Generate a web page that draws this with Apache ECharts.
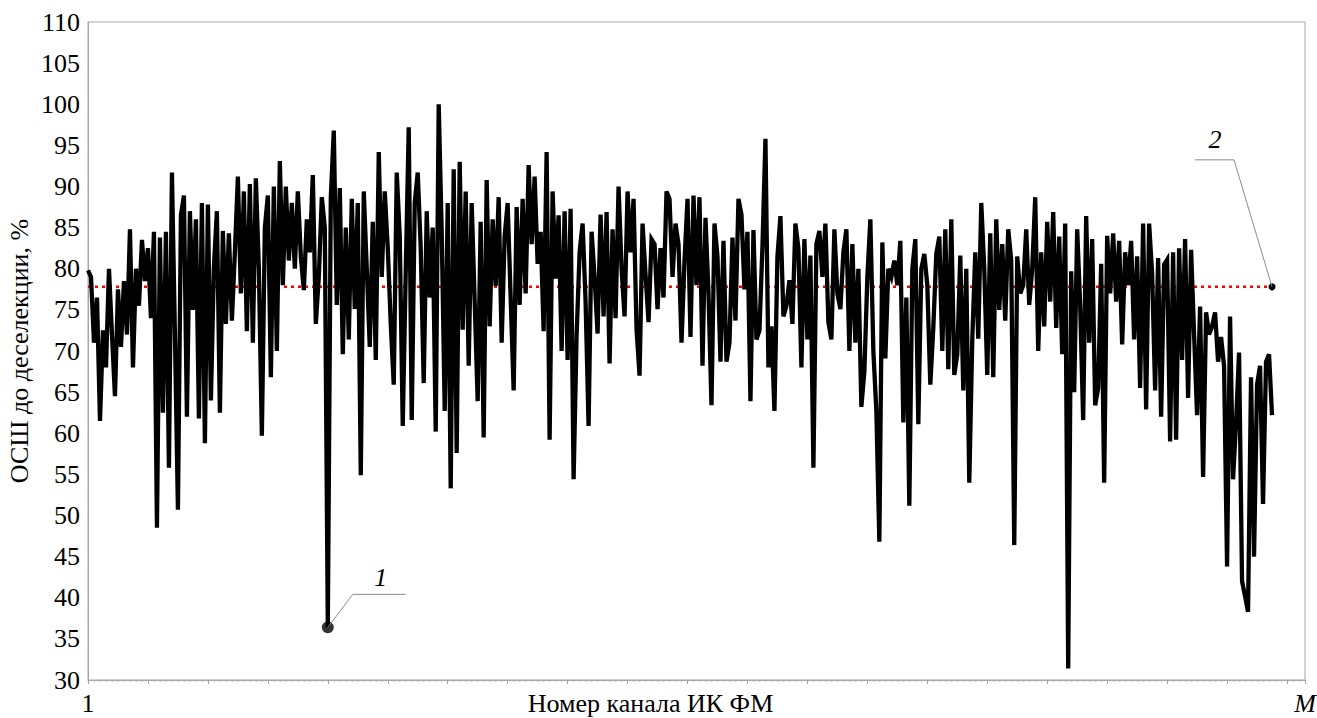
<!DOCTYPE html>
<html>
<head>
<meta charset="utf-8">
<script src="https://cdn.jsdelivr.net/npm/echarts@6/dist/echarts.min.js"></script>
<style>
  html, body { margin: 0; padding: 0; background: #fff; }
  #chart { width: 1317px; height: 718px; }
</style>
</head>
<body>
<div id="chart"></div>
<script>
// ОСШ до деселекции по каналам ИК ФМ (канал 1 ... M)
const snrValues = [
  79.8, 79, 71, 76.5, 61.5, 72.5, 68, 80, 72, 64.5,
  77.5, 70.5, 78.5, 72, 84.8, 68, 80, 75.5, 83.5, 78.5,
  82.5, 74, 84.5, 48.5, 83.8, 62.5, 84.5, 55.8, 91.7, 72,
  50.7, 86.5, 88.9, 62, 87, 75, 86, 61.8, 88, 58.8,
  87.8, 64, 80.2, 87, 62.5, 84.6, 73.3, 84.3, 73.7, 82,
  91.2, 77, 89.4, 72.4, 90.3, 71, 91, 80, 59.7, 85,
  88.9, 66.8, 90, 70, 93.1, 78, 90, 81, 88, 80,
  89.4, 81.5, 77.4, 86, 82, 91.4, 73.3, 79, 88.7, 85,
  36.4, 88.7, 96.8, 75.6, 89.8, 69.6, 85, 71.4, 88.5, 75.1,
  88, 54.9, 89.4, 80, 70.5, 85.7, 68.9, 94.2, 79, 89.4,
  82.5, 73.3, 65.9, 91.7, 84, 60.9, 79.7, 97.2, 61.6, 88,
  91.7, 82.5, 66.1, 87, 76.5, 85, 60.2, 100, 84.5, 62.7,
  88, 53.3, 92.1, 57.6, 93, 72.6, 89.4, 68.2, 88, 76,
  63.9, 85.7, 59.5, 90.8, 73, 86, 77.9, 88.7, 71, 84,
  88, 76.5, 65.2, 87.5, 75.6, 88.5, 77, 92.6, 83, 91.2,
  80.6, 84.5, 72.4, 94.2, 59.2, 89.4, 78.8, 86.5, 70, 87,
  68.9, 87.3, 54.4, 71.9, 82, 85.5, 76, 60.9, 84.5, 79,
  72.1, 86.6, 74.2, 86.9, 68.5, 84.8, 74, 90, 80, 74.2,
  89.4, 82, 88.5, 72.6, 67, 85.5, 79.3, 73.5, 83.6, 83,
  75.1, 82.5, 76.5, 89.4, 88.5, 79, 85.5, 83, 71, 81,
  88.5, 71.7, 88.9, 78, 88.7, 68.2, 86.2, 77, 63.4, 85.5,
  81.5, 68.7, 83.4, 68.7, 71, 83.8, 73.7, 88.5, 86.6, 77.5,
  84.5, 63.9, 84.7, 71.4, 72.5, 82.7, 95.8, 68, 73, 62.7,
  81.5, 86.4, 74.2, 75.5, 78.6, 73.3, 85.5, 82.5, 68, 83.6,
  71.4, 81.6, 55.8, 83, 84.6, 79, 85.5, 73.5, 71.4, 84.8,
  77, 75.1, 82, 84.8, 70, 83, 71, 80, 63.2, 67.5,
  79, 86, 70, 62.7, 46.8, 83.2, 69.1, 80, 79, 81,
  78, 83.4, 61.3, 76.5, 51.2, 80, 83.6, 61.1, 80, 81.8,
  78, 65.9, 72.8, 81.8, 83.9, 70, 84.8, 67.8, 86, 67.1,
  69.6, 81.6, 65.2, 80, 54, 71.4, 82, 71.5, 88, 80,
  67.1, 84.3, 66.8, 86, 75, 83, 73.7, 84.8, 81, 46.4,
  81.5, 77, 78, 84.8, 75.6, 80, 88.7, 70, 82, 73,
  85.7, 76, 86.9, 72.8, 83.9, 69.6, 85.5, 31.4, 79.7, 65,
  84.8, 75.5, 61.6, 86.4, 71, 83.6, 63.4, 65.5, 80.6, 54,
  84, 77, 84.3, 76, 83.4, 70.8, 82, 78, 83.4, 71.4,
  81.5, 65.5, 85.5, 62.9, 85.5, 79.4, 65.2, 81.3, 62, 80.5,
  81.1, 59, 82, 59.2, 82.5, 68.9, 83.6, 64.3, 82.3, 72,
  62.2, 75.4, 54.7, 74.7, 72, 73, 74.7, 68.7, 71.7, 68.2,
  43.8, 74.2, 54.4, 61.3, 69.8, 42, 40.2, 38.3, 66.8, 45,
  65.9, 68.2, 51.4, 68.7, 69.6, 62.2
]

// средний уровень ОСШ (красная пунктирная линия)
const thresholdLevel = 77.8

// ось Y
const yMin = 30
const yMax = 110
const yStep = 5

// ось X: каналы 1 ... M
const channelAxisMax = 406
const channelTickStep = 20
const firstChannelLabel = '1'
const lastChannelLabel = 'M'

// выноски
const marker1Index = 80
const marker1Text = '1'
const marker2Text = '2'

const serif = '"Liberation Serif", "Times New Roman", serif'
const lastIndex = snrValues.length - 1

const chart = echarts.init(document.getElementById('chart'), null, { renderer: 'svg' })

const option = {
  animation: false,
  backgroundColor: '#fff',
  grid: {
    left: 88,
    right: 12,
    top: 22,
    bottom: 38,
    containLabel: false,
    outerBoundsMode: 'none',
    show: true,
    borderColor: '#a6a6a6',
    borderWidth: 1
  },
  xAxis: {
    type: 'value',
    min: 0,
    max: channelAxisMax,
    interval: channelTickStep,
    name: 'Номер канала ИК ФМ',
    nameLocation: 'middle',
    nameGap: 10,
    nameMoveOverlap: false,
    nameTextStyle: {
      fontFamily: serif,
      fontSize: 26,
      color: '#000',
      verticalAlign: 'top',
      padding: [0, 92, 0, 0]
    },
    axisLine: { lineStyle: { color: '#a6a6a6', width: 1 } },
    axisTick: { show: true, length: 4, lineStyle: { color: '#a6a6a6' } },
    minorTick: { show: true, splitNumber: 10, length: 2, lineStyle: { color: '#b5b5b5' } },
    splitLine: { show: false },
    axisLabel: {
      margin: 10,
      fontFamily: serif,
      fontSize: 26,
      color: '#000',
      showMaxLabel: true,
      formatter: v => {
        if (v === 0) return firstChannelLabel
        if (v === channelAxisMax) return '{m|' + lastChannelLabel + '}'
        return ''
      },
      rich: {
        m: { fontFamily: serif, fontSize: 26, fontStyle: 'italic', color: '#000' }
      }
    }
  },
  yAxis: {
    type: 'value',
    min: yMin,
    max: yMax,
    interval: yStep,
    name: 'ОСШ до деселекции, %',
    nameLocation: 'middle',
    nameGap: 56,
    nameRotate: 90,
    nameMoveOverlap: false,
    nameTextStyle: { fontFamily: serif, fontSize: 26, color: '#000' },
    axisLine: { show: true, lineStyle: { color: '#a6a6a6', width: 1 } },
    axisTick: { show: false },
    splitLine: { show: false },
    axisLabel: { margin: 8, fontFamily: serif, fontSize: 26, color: '#000' }
  },
  series: [
    {
      name: 'threshold',
      type: 'line',
      z: 1,
      data: [
        { value: [0, thresholdLevel], symbol: 'none' },
        { value: [lastIndex, thresholdLevel], symbol: 'circle', symbolSize: 7 }
      ],
      showSymbol: true,
      itemStyle: { color: '#000' },
      lineStyle: { color: '#ff0000', width: 2.5, type: [3, 4] },
      silent: true
    },
    {
      name: 'snr',
      type: 'line',
      z: 2,
      data: snrValues.map((v, i) => [i, v]),
      showSymbol: false,
      sampling: 'none',
      lineStyle: { color: '#000', width: 4.3, join: 'miter' },
      silent: true
    },
    {
      name: 'marker1',
      type: 'scatter',
      z: 3,
      data: [[marker1Index, snrValues[marker1Index]]],
      symbolSize: 12,
      itemStyle: { color: '#000' },
      silent: true
    }
  ]
}

chart.setOption(option)

// выноски 1 и 2 от точек на графике
const p1 = chart.convertToPixel({ gridIndex: 0 }, [marker1Index, snrValues[marker1Index]])
const p2 = chart.convertToPixel({ gridIndex: 0 }, [lastIndex, thresholdLevel])
const leaderStyle = { stroke: '#8c8c8c', lineWidth: 1, fill: null }
const labelStyle = { fontFamily: serif, fontSize: 26, fontStyle: 'italic', fill: '#000', textAlign: 'center', textVerticalAlign: 'middle' }

chart.setOption({
  graphic: [
    {
      type: 'polyline',
      shape: { points: [[p1[0], p1[1]], [p1[0] + 25, p1[1] - 33], [p1[0] + 78, p1[1] - 33]] },
      style: leaderStyle,
      z: 10
    },
    {
      type: 'text',
      x: p1[0] + 53,
      y: p1[1] - 50,
      style: Object.assign({ text: marker1Text }, labelStyle),
      z: 10
    },
    {
      type: 'polyline',
      shape: { points: [[p2[0], p2[1]], [p2[0] - 38, p2[1] - 127], [p2[0] - 77, p2[1] - 127]] },
      style: leaderStyle,
      z: 10
    },
    {
      type: 'text',
      x: p2[0] - 57,
      y: p2[1] - 147,
      style: Object.assign({ text: marker2Text }, labelStyle),
      z: 10
    }
  ]
})

window.addEventListener('resize', () => chart.resize())
</script>
</body>
</html>
